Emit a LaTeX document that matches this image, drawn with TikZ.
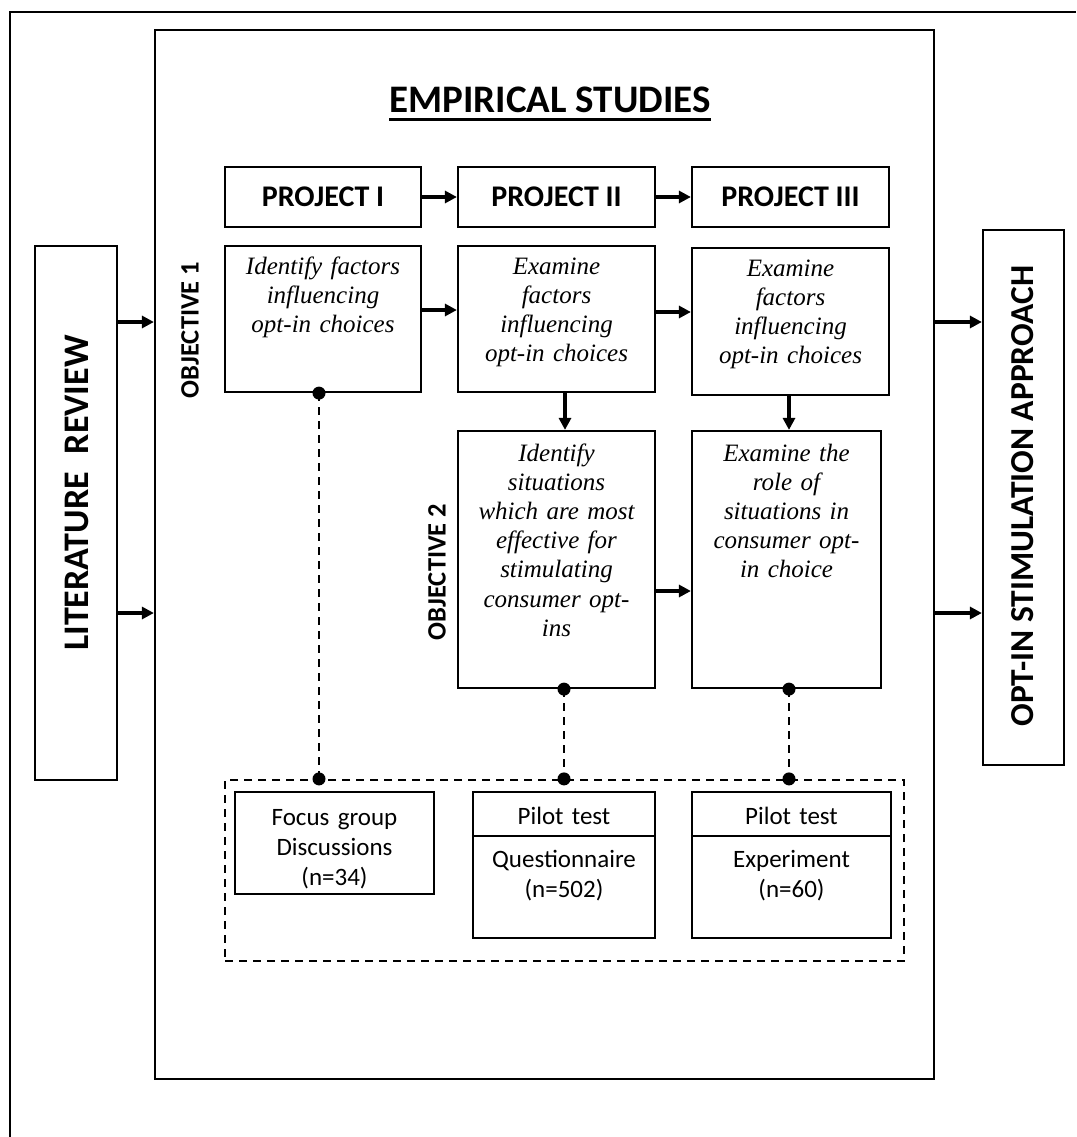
\documentclass[tikz,border=0pt]{standalone}
\usepackage{fontspec}
\setmainfont{Liberation Serif}
\setsansfont{Carlito}
\usetikzlibrary{arrows.meta,calc}
\begin{document}
\begin{tikzpicture}[x=1pt,y=-1pt,
  box/.style={draw, line width=2.2pt, inner sep=0pt},
  arr/.style={line width=3.2pt, -{Triangle[length=12pt,width=12pt]}},
  dline/.style={line width=2.2pt, dash pattern=on 8pt off 6pt},
  ptitle/.style={font=\sffamily\bfseries\fontsize{30}{34}\selectfont},
  rlabel/.style={rotate=90, inner sep=0pt, font=\sffamily\bfseries\fontsize{36}{40}\selectfont},
  objlabel/.style={rotate=90, inner sep=0pt, font=\sffamily\bfseries\fontsize{26.5}{30}\selectfont},
  itext/.style={anchor=base, inner sep=0pt, align=center, text width=190pt, font=\itshape\fontsize{25}{29.2}\selectfont},
  stext/.style={anchor=base, inner sep=0pt, align=center, text width=190pt, font=\sffamily\fontsize{25}{30}\selectfont},
  dot/.style={fill=black}
]
\useasboundingbox (0,0) rectangle (1076,1137);

% outer frame (open to right and bottom)
\coordinate (ofb) at (10,1137);
\coordinate (oftl) at (10,12);
\coordinate (oftr) at (1076,12);
\draw[line width=2.4pt] (ofb) -- (oftl) -- (oftr);

% main boxes
\node[box, minimum width=779pt, minimum height=1049pt] (emp) at (544.5,554.5) {};
\node[box, minimum width=82pt, minimum height=534pt] (lit) at (76,513) {};
\node[box, minimum width=81pt, minimum height=535pt] (opt) at (1023.5,497.5) {};

\node[rlabel] (littext) at (77,493) {LITERATURE\hspace{0.5em}REVIEW};
\node[rlabel, font=\sffamily\bfseries\fontsize{33.5}{38}\selectfont] (opttext) at (1023,496) {OPT-IN STIMULATION APPROACH};

% title
\node[inner sep=0pt, font=\sffamily\bfseries\fontsize{39}{44}\selectfont] (title) at (550,100) {EMPIRICAL STUDIES};
\draw[line width=3pt] ($(title.south west)+(0,6)$) -- ($(title.south east)+(0,6)$);

% projects
\node[box, ptitle, minimum width=196pt, minimum height=60pt] (p1) at (323,197) {PROJECT I};
\node[box, ptitle, minimum width=197pt, minimum height=60pt] (p2) at (556.5,197) {PROJECT II};
\node[box, ptitle, minimum width=197pt, minimum height=60pt] (p3) at (790.5,197) {PROJECT III};

% objective 1 row
\node[box, minimum width=196pt, minimum height=146pt] (b1) at (323,319) {};
\node[box, minimum width=197pt, minimum height=146pt] (b2) at (556.5,319) {};
\node[box, minimum width=197pt, minimum height=147pt] (b3) at (790.5,321.5) {};
\node[itext] (t1) at (323,274) {Identify factors\\influencing\\opt-in choices};
\node[itext] (t2) at (556.5,274) {Examine\\factors\\influencing\\opt-in choices};
\node[itext] (t3) at (790.5,276) {Examine\\factors\\influencing\\opt-in choices};

% objective 2 row
\node[box, minimum width=197pt, minimum height=257pt] (b4) at (556.5,559.5) {};
\node[box, minimum width=189pt, minimum height=257pt] (b5) at (786.5,559.5) {};
\node[itext] (t4) at (556.5,461) {Identify\\situations\\which are most\\effective for\\stimulating\\consumer opt-\\ins};
\node[itext] (t5) at (786.5,461) {Examine the\\role of\\situations in\\consumer opt-\\in choice};

\node[objlabel] (obj1) at (190,330) {OBJECTIVE 1};
\node[objlabel] (obj2) at (437,572) {OBJECTIVE 2};

% methods group
\node[draw, dline, inner sep=0pt, minimum width=679pt, minimum height=181pt] (grp) at (564.5,870.5) {};
\node[box, minimum width=199pt, minimum height=102pt] (m1) at (334.5,843) {};
\node[box, minimum width=182pt, minimum height=146pt] (m2) at (564,865) {};
\node[box, minimum width=199pt, minimum height=146pt] (m3) at (791.5,865) {};
\coordinate (dv) at (0,836);
\draw[line width=2.2pt] (m2.west |- dv) -- (m2.east |- dv);
\draw[line width=2.2pt] (m3.west |- dv) -- (m3.east |- dv);
\node[stext] (m1t) at (334.5,825) {Focus group\\Discussions\\(n=34)};
\node[stext] (m2a) at (564,824) {Pilot test};
\node[stext] (m2b) at (564,867) {Questionnaire\\(n=502)};
\node[stext] (m3a) at (791.5,824) {Pilot test};
\node[stext] (m3b) at (791.5,867) {Experiment\\(n=60)};

% arrow levels
\coordinate (ya) at (0,322);
\coordinate (yb) at (0,613);
\coordinate (yp) at (0,197);
\coordinate (y1) at (0,310);
\coordinate (y2) at (0,312);
\coordinate (y4) at (0,591);
\coordinate (xa) at (565,0);
\coordinate (xb) at (789,0);
\coordinate (xd1) at (319,0);
\coordinate (xd2) at (564,0);
\coordinate (xd3) at (789,0);

\draw[arr] (lit.east |- ya) -- (emp.west |- ya);
\draw[arr] (lit.east |- yb) -- (emp.west |- yb);
\draw[arr] (emp.east |- ya) -- (opt.west |- ya);
\draw[arr] (emp.east |- yb) -- (opt.west |- yb);

\draw[arr] (p1.east |- yp) -- (p2.west |- yp);
\draw[arr] (p2.east |- yp) -- (p3.west |- yp);
\draw[arr] (b1.east |- y1) -- (b2.west |- y1);
\draw[arr] (b2.east |- y2) -- (b3.west |- y2);
\draw[arr] (b2.south -| xa) -- (b4.north -| xa);
\draw[arr] (b3.south -| xb) -- (b5.north -| xb);
\draw[arr] (b4.east |- y4) -- (b5.west |- y4);

% dashed links with dots
\draw[dline] (b1.south -| xd1) -- (grp.north -| xd1);
\draw[dline] (b4.south -| xd2) -- (grp.north -| xd2);
\draw[dline] (b5.south -| xd3) -- (grp.north -| xd3);
\fill[dot] (b1.south -| xd1) circle (6.5pt);
\fill[dot] (grp.north -| xd1) circle (6.5pt);
\fill[dot] (b4.south -| xd2) circle (6.5pt);
\fill[dot] (grp.north -| xd2) circle (6.5pt);
\fill[dot] (b5.south -| xd3) circle (6.5pt);
\fill[dot] (grp.north -| xd3) circle (6.5pt);
\end{tikzpicture}
\end{document}
